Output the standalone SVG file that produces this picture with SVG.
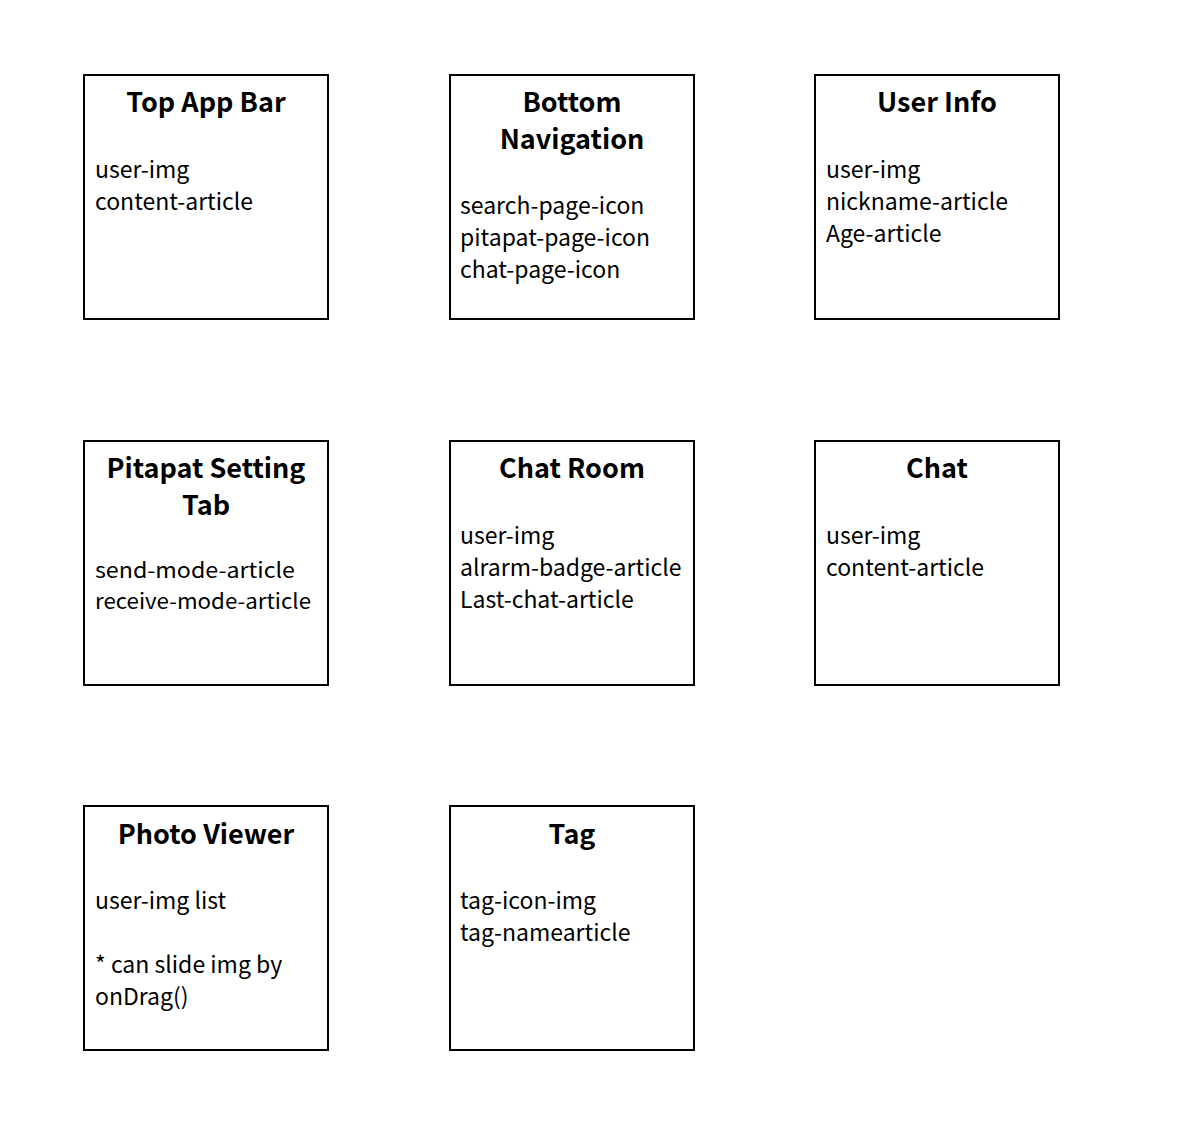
<svg xmlns="http://www.w3.org/2000/svg" width="1192" height="1144" viewBox="0 0 1192 1144">
<style>
.box{fill:#fff;stroke:#000;stroke-width:2}
.t{font-family:"Noto Sans CJK KR","Noto Sans",sans-serif;font-weight:bold;font-size:27px;text-anchor:middle;fill:#000}
.b{font-family:"Noto Sans CJK KR","Noto Sans",sans-serif;font-size:23px;fill:#000}
.s{font-size:21px}
</style>
<rect width="1192" height="1144" fill="#fff"/>
<g id="top-app-bar">
<rect class="box" x="84" y="75" width="244" height="244"/>
<text class="t" x="206" y="112">Top App Bar</text>
<text class="b" x="95" y="178">user-img</text>
<text class="b" x="95" y="210">content-article</text>
</g>
<g id="bottom-navigation">
<rect class="box" x="450" y="75" width="244" height="244"/>
<text class="t" x="572" y="112">Bottom</text>
<text class="t" x="572" y="149">Navigation</text>
<text class="b" x="460" y="214">search-page-icon</text>
<text class="b" x="460" y="246">pitapat-page-icon</text>
<text class="b" x="460" y="278">chat-page-icon</text>
</g>
<g id="user-info">
<rect class="box" x="815" y="75" width="244" height="244"/>
<text class="t" x="937" y="112">User Info</text>
<text class="b" x="826" y="178">user-img</text>
<text class="b" x="826" y="210">nickname-article</text>
<text class="b" x="826" y="242">Age-article</text>
</g>
<g id="pitapat-setting-tab">
<rect class="box" x="84" y="441" width="244" height="244"/>
<text class="t" x="206" y="478">Pitapat Setting</text>
<text class="t" x="206" y="515">Tab</text>
<text class="b s" x="95" y="578" textLength="200" lengthAdjust="spacingAndGlyphs">send-mode-article</text>
<text class="b s" x="95" y="609" textLength="216" lengthAdjust="spacingAndGlyphs">receive-mode-article</text>
</g>
<g id="chat-room">
<rect class="box" x="450" y="441" width="244" height="244"/>
<text class="t" x="572" y="478">Chat Room</text>
<text class="b" x="460" y="544">user-img</text>
<text class="b" x="460" y="576">alrarm-badge-article</text>
<text class="b" x="460" y="608">Last-chat-article</text>
</g>
<g id="chat">
<rect class="box" x="815" y="441" width="244" height="244"/>
<text class="t" x="937" y="478">Chat</text>
<text class="b" x="826" y="544">user-img</text>
<text class="b" x="826" y="576">content-article</text>
</g>
<g id="photo-viewer">
<rect class="box" x="84" y="806" width="244" height="244"/>
<text class="t" x="206" y="844">Photo Viewer</text>
<text class="b" x="95" y="909">user-img list</text>
<text class="b" x="95" y="973">* can slide img by</text>
<text class="b" x="95" y="1005">onDrag()</text>
</g>
<g id="tag">
<rect class="box" x="450" y="806" width="244" height="244"/>
<text class="t" x="572" y="844">Tag</text>
<text class="b" x="460" y="909">tag-icon-img</text>
<text class="b" x="460" y="941">tag-namearticle</text>
</g>
<g id="connectors"></g>
</svg>
